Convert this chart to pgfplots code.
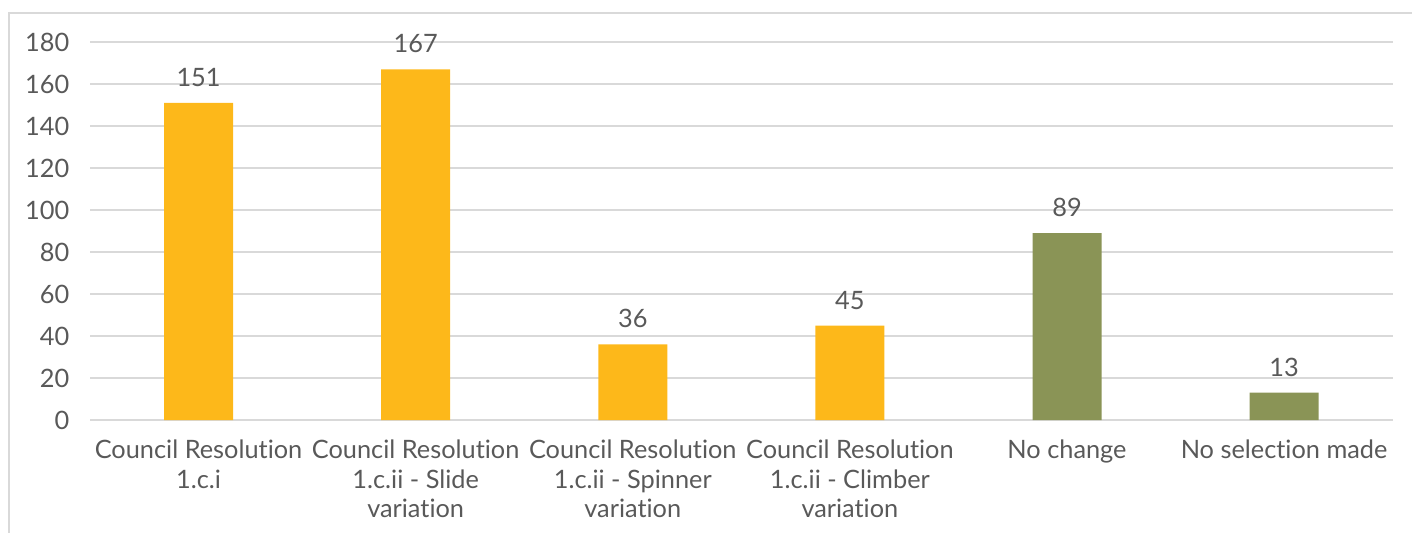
\documentclass[border=0pt]{standalone}
\usepackage{pgfplots}
\pgfplotsset{compat=1.18}
\usepackage{fontspec}
\setmainfont{Lato}[Ligatures={NoCommon}]
\definecolor{txt}{HTML}{595959}
\definecolor{gridc}{HTML}{D9D9D9}
\definecolor{barorange}{HTML}{FDB81A}
\definecolor{bargreen}{HTML}{8A9456}
\begin{document}
\begin{tikzpicture}
\useasboundingbox (0,0) rectangle (1059pt,399pt);
% outer frame (only left and top visible)
\draw[gridc, line width=1.5pt] (6.75pt,-5pt) -- (6.75pt,389.25pt) -- (1065pt,389.25pt);
\begin{axis}[
    at={(67.5pt,84pt)}, anchor=south west,
    scale only axis,
    width=977pt, height=283.5pt,
    xmin=-0.5, xmax=5.5,
    ymin=0, ymax=180,
    ytick={0,20,...,180},
    xtick={0,...,5},
    xticklabels={{Council Resolution\\1.c.i},
                 {Council Resolution\\1.c.ii - Slide\\variation},
                 {Council Resolution\\1.c.ii - Spinner\\variation},
                 {Council Resolution\\1.c.ii - Climber\\variation},
                 {No change},
                 {No selection made}},
    axis y line*=left,
    y axis line style={draw=none},
    axis x line*=bottom,
    x axis line style={gridc, line width=1.5pt, -},
    major tick length=0pt,
    ymajorgrids=true,
    grid style={gridc, line width=1.5pt},
    yticklabel style={text=txt, font=\fontsize{19}{20}\selectfont, xshift=-12pt},
    xticklabel style={text=txt, font=\fontsize{19}{22}\selectfont, align=center, yshift=-11.5pt},
    /pgf/number format/assume math mode=true,
    ybar, bar width=51.75pt, bar shift=0pt,
    nodes near coords,
    nodes near coords style={text=txt, font=\fontsize{19}{20}\selectfont, inner sep=0pt, anchor=south, yshift=12pt},
    clip=false,
]
\addplot[fill=barorange, draw=none] coordinates {(0,151) (1,167) (2,36) (3,45)};
\addplot[fill=bargreen, draw=none] coordinates {(4,89) (5,13)};
\end{axis}
\end{tikzpicture}
\end{document}
